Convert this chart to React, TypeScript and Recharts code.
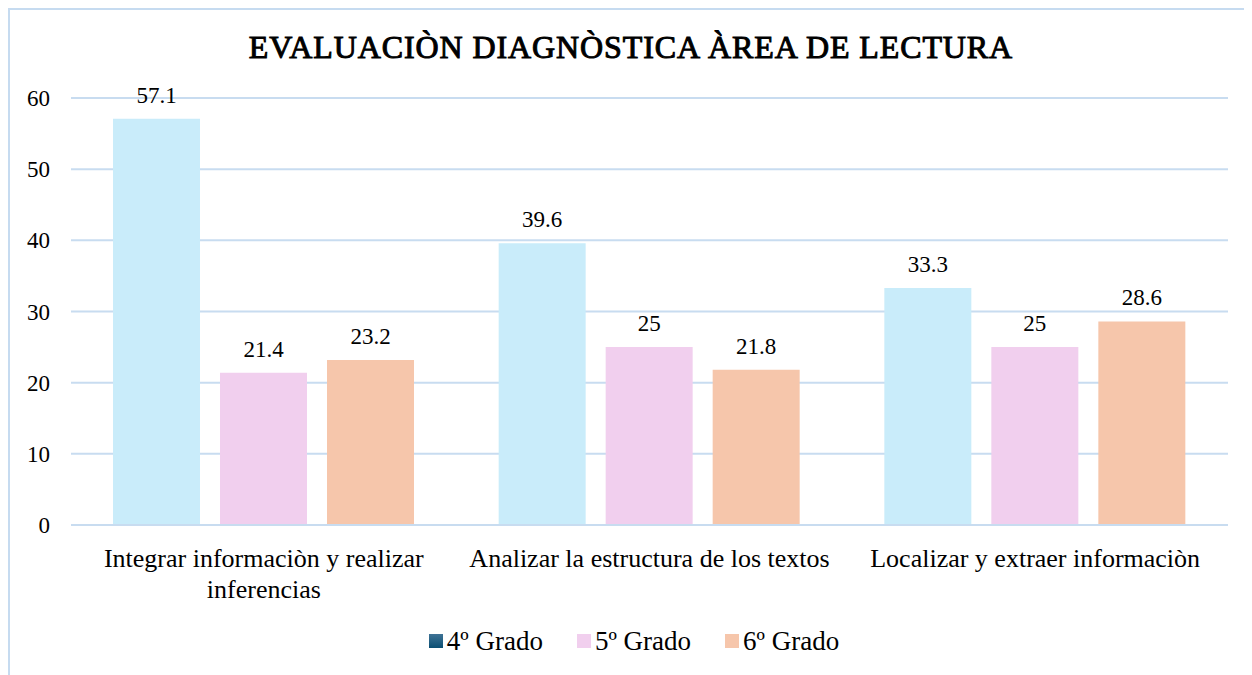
import React from "react";
import {
  BarChart,
  Bar,
  XAxis,
  YAxis,
  CartesianGrid,
  Legend,
  LabelList,
} from "recharts";

const categories = [
  "Integrar informaciòn y realizar inferencias",
  "Analizar la estructura de los textos",
  "Localizar y extraer informaciòn",
];
const grado4 = [57.1, 39.6, 33.3];
const grado5 = [21.4, 25, 25];
const grado6 = [23.2, 21.8, 28.6];
const yTicks = [0, 10, 20, 30, 40, 50, 60];

const seriesNames = ["4º Grado", "5º Grado", "6º Grado"];

const data = categories.map((name, i) => ({
  name,
  g4: grado4[i],
  g5: grado5[i],
  g6: grado6[i],
}));

const FONT = '"Liberation Serif", "Times New Roman", serif';
const barColors = ["#c9ecfa", "#f1cfee", "#f6c6ab"];
const legendSwatches = [
  "linear-gradient(#3f7396, #0b4f73)",
  "#f1cfee",
  "#f6c6ab",
];

// wrap a category label into lines no wider than maxW
let ctx: CanvasRenderingContext2D | null = null;
function wrap(text: string, maxW: number, font: string): string[] {
  if (!ctx) ctx = document.createElement("canvas").getContext("2d");
  if (!ctx) return [text];
  ctx.font = font;
  const words = text.split(" ");
  const lines: string[] = [];
  let cur = "";
  for (const w of words) {
    const next = cur ? cur + " " + w : w;
    if (cur && ctx.measureText(next).width > maxW) {
      lines.push(cur);
      cur = w;
    } else {
      cur = next;
    }
  }
  if (cur) lines.push(cur);
  return lines;
}

function CategoryTick(props: any) {
  const { x, y, payload } = props;
  const lines = wrap(payload.value, 380, '26px "Liberation Serif"');
  return (
    <text
      x={x}
      y={y + 42}
      textAnchor="middle"
      style={{ fontFamily: FONT, fontSize: 26, fill: "#000" }}
    >
      {lines.map((l, i) => (
        <tspan key={i} x={x} dy={i === 0 ? 0 : 31}>
          {l}
        </tspan>
      ))}
    </text>
  );
}

function ValueTick(props: any) {
  const { x, y, payload } = props;
  return (
    <text
      x={x}
      y={y}
      dy={8}
      textAnchor="end"
      style={{ fontFamily: FONT, fontSize: 23, fill: "#000" }}
    >
      {payload.value}
    </text>
  );
}

function BarLabel(props: any) {
  const { x, y, width, value } = props;
  return (
    <text
      x={x + width / 2}
      y={y - 16}
      textAnchor="middle"
      style={{ fontFamily: FONT, fontSize: 23, fill: "#000" }}
    >
      {value}
    </text>
  );
}

function LegendBox() {
  return (
    <div
      style={{
        height: 40,
        display: "flex",
        justifyContent: "center",
        alignItems: "center",
        fontFamily: FONT,
        fontSize: 27,
        color: "#000",
        paddingLeft: 30,
      }}
    >
      {seriesNames.map((n, i) => (
        <div
          key={n}
          style={{
            display: "flex",
            alignItems: "center",
            marginRight: i < seriesNames.length - 1 ? 34 : 0,
          }}
        >
          <span
            style={{
              width: 14,
              height: 14,
              background: legendSwatches[i],
              display: "inline-block",
              marginRight: 4,
            }}
          />
          <span>{n}</span>
        </div>
      ))}
    </div>
  );
}

export default function App() {
  return (
    <div
      style={{
        position: "relative",
        width: 1242,
        height: 665,
        borderLeft: "2px solid #c6dbf0",
        borderTop: "2px solid #c6dbf0",
        background: "#fff",
        fontFamily: FONT,
      }}
    >
      <div
        style={{
          position: "absolute",
          top: 19,
          left: 0,
          width: 1242,
          textAlign: "center",
          fontFamily: FONT,
          fontWeight: 400,
          fontSize: 32,
          letterSpacing: 0.9,
          WebkitTextStroke: "1px #000",
          lineHeight: "36px",
          color: "#000",
          zIndex: 1,
        }}
      >
        EVALUACIÒN DIAGNÒSTICA ÀREA DE LECTURA
      </div>
      <BarChart
        width={1242}
        height={665}
        data={data}
        margin={{ top: 88, right: 24, left: 0, bottom: 14 }}
        barSize={87}
        barGap={20}
      >
        <CartesianGrid vertical={false} stroke="#c8dcf0" strokeWidth={2} />
        <XAxis
          dataKey="name"
          axisLine={{ stroke: "#c8dcf0", strokeWidth: 2 }}
          tickLine={false}
          tickSize={0}
          tickMargin={0}
          height={96}
          interval={0}
          tick={<CategoryTick />}
        />
        <YAxis
          width={61}
          domain={[0, 60]}
          ticks={yTicks}
          axisLine={false}
          tickLine={false}
          tickSize={0}
          tickMargin={21}
          tick={<ValueTick />}
        />
        <Legend verticalAlign="bottom" content={<LegendBox />} />
        {["g4", "g5", "g6"].map((k, i) => (
          <Bar
            key={k}
            dataKey={k}
            name={seriesNames[i]}
            fill={barColors[i]}
            isAnimationActive={false}
          >
            <LabelList dataKey={k} content={<BarLabel />} />
          </Bar>
        ))}
      </BarChart>
    </div>
  );
}
